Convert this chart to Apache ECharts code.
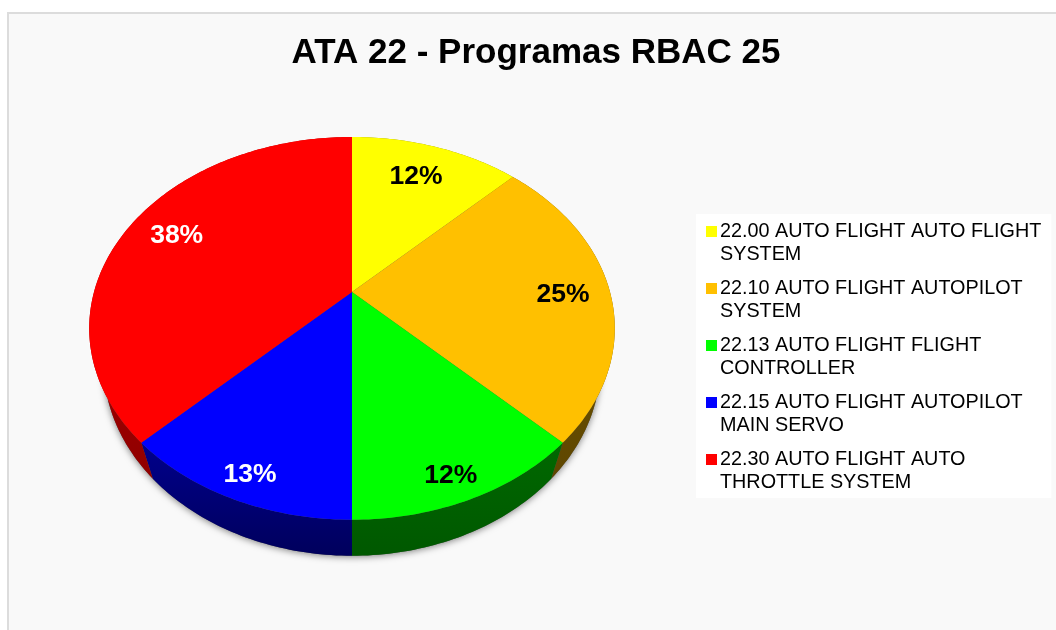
<!DOCTYPE html>
<html>
<head>
<meta charset="utf-8">
<style>html,body{margin:0;padding:0;background:#fff;overflow:hidden}#c{width:1056px;height:630px}</style>
<script src="https://cdn.jsdelivr.net/npm/echarts@6/dist/echarts.min.js"></script>
</head>
<body>
<div id="c"></div>
<script>
const titleText = 'ATA 22 - Programas RBAC 25';
const categories = [
  '22.00 AUTO FLIGHT AUTO FLIGHT\nSYSTEM',
  '22.10 AUTO FLIGHT AUTOPILOT\nSYSTEM',
  '22.13 AUTO FLIGHT FLIGHT\nCONTROLLER',
  '22.15 AUTO FLIGHT AUTOPILOT\nMAIN SERVO',
  '22.30 AUTO FLIGHT AUTO\nTHROTTLE SYSTEM'
];
const programCounts = [1, 2, 1, 1, 3];
const percentLabels = ['12%', '25%', '12%', '13%', '38%'];
const topColors = ['#ffff00', '#ffc000', '#00ff00', '#0000ff', '#ff0000'];
const sideLight = ['#8a8a00', '#7a5c00', '#006800', '#00008c', '#bc0000'];
const sideDark = ['#707000', '#5e4600', '#005800', '#00005c', '#900000'];
const labelColors = ['#000', '#000', '#000', '#fff', '#fff'];
const labelNudge = [[-6, 6], [2, 3], [-7, 1], [4, 0], [7, -2]];

const total = programCounts.reduce((a, b) => a + b, 0);
const K = 0.19, A = 258, B = 184.5, CX = 352, TOPY = 292, BOTY = 328, BOTX = 0.945;
const FONT = '"Liberation Sans", Arial, sans-serif';

function topPt(u, v) { const w = 1 - K * v; return [CX + A * u / w, TOPY + B * v / w]; }
function botPt(u, v) { const w = 1 - K * v; return [CX + BOTX * A * u / w, BOTY + B * v / w]; }
function arc(fn, a0, a1) {
  const n = Math.max(2, Math.ceil((a1 - a0) / (Math.PI / 180)));
  const pts = [];
  for (let i = 0; i <= n; i++) {
    const a = a0 + (a1 - a0) * i / n;
    pts.push(fn(Math.sin(a), -Math.cos(a)));
  }
  return pts;
}

function makeRender(idx) {
  return function (params, api) {
    const before = programCounts.slice(0, idx).reduce((a, b) => a + b, 0);
    const a0 = before / total * 2 * Math.PI;
    const a1 = a0 + api.value(0) / total * 2 * Math.PI;
    const mid = (a0 + a1) / 2;
    const r = 0.81 - Math.min(0, Math.cos(mid)) * 0.1;
    const lp = topPt(r * Math.sin(mid), -r * Math.cos(mid));
    const topArc = arc(topPt, a0, a1);
    const botArc = arc(botPt, a0, a1).reverse();
    const children = [];
    if (idx === 0) {
      children.push({
        type: 'polygon', z2: -1,
        shape: { points: arc(botPt, 0, 2 * Math.PI) },
        style: { fill: '#555', shadowColor: 'rgba(0,0,0,0.5)', shadowBlur: 7, shadowOffsetY: 1 }
      });
    }
    children.push({
      type: 'polygon', z2: 1,
      shape: { points: topArc.concat(botArc) },
      style: {
        fill: new echarts.graphic.LinearGradient(0, 0, 0, 1, [
          { offset: 0, color: sideLight[idx] }, { offset: 1, color: sideDark[idx] }
        ])
      }
    });
    children.push({
      type: 'polygon', z2: 2,
      shape: { points: [[CX, TOPY]].concat(topArc) },
      style: { fill: topColors[idx] }
    });
    children.push({
      type: 'text', z2: 3,
      x: lp[0] + labelNudge[idx][0], y: lp[1] + labelNudge[idx][1],
      style: {
        text: percentLabels[idx], fill: labelColors[idx],
        font: 'bold 26.5px ' + FONT, align: 'center', verticalAlign: 'middle'
      }
    });
    return { type: 'group', children };
  };
}

const chart = echarts.init(document.getElementById('c'), null, { renderer: 'canvas' });
chart.setOption({
  animation: false,
  backgroundColor: '#fff',
  graphic: [{
    type: 'rect', z: -10, silent: true,
    shape: { x: 8, y: 13, width: 1060, height: 630 },
    style: { fill: '#f9f9f9', stroke: '#dcdcdc', lineWidth: 2 }
  }],
  title: {
    text: titleText, left: 531, top: 31, textAlign: 'center',
    textStyle: { fontFamily: FONT, fontSize: 35, fontWeight: 'bold', color: '#000' }
  },
  legend: {
    orient: 'vertical', left: 696, top: 214,
    padding: [6, 10, 4, 10],
    backgroundColor: '#fff',
    itemGap: 11, itemWidth: 11, itemHeight: 46,
    selectedMode: false,
    icon: 'path://M0 6L11 6L11 17L0 17Z M0 0L0 0L0 0Z M11 46L11 46L11 46Z',
    textStyle: { fontFamily: FONT, fontSize: 19.8, lineHeight: 23, color: '#000', padding: [0, 0, 0, -2] },
    data: categories.map((name, i) => ({ name, itemStyle: { color: topColors[i] } }))
  },
  series: categories.map((name, i) => ({
    type: 'custom', name, coordinateSystem: 'none', silent: true,
    itemStyle: { color: topColors[i] },
    renderItem: makeRender(i),
    data: [[programCounts[i]]]
  }))
});
</script>
</body>
</html>
